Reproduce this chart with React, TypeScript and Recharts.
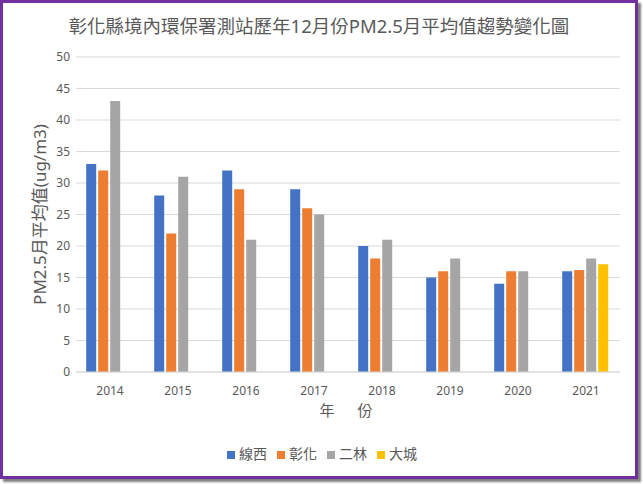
import { BarChart, Bar, XAxis, YAxis, CartesianGrid, Legend } from 'recharts'

const years = ['2014', '2015', '2016', '2017', '2018', '2019', '2020', '2021']
const seriesNames = ['線西', '彰化', '二林', '大城']
const xianxi = [33, 28, 32, 29, 20, 15, 14, 16]
const changhua = [32, 22, 29, 26, 18, 16, 16, 16.2]
const erlin = [43, 31, 21, 25, 21, 18, 16, 18]
const dacheng = [null, null, null, null, null, null, null, 17.1]
const yTicks = [0, 5, 10, 15, 20, 25, 30, 35, 40, 45, 50]

const data = years.map((year, i) => ({
  year,
  線西: xianxi[i],
  彰化: changhua[i],
  二林: erlin[i],
  大城: dacheng[i],
}))

const font = "'Noto Sans', 'Noto Sans CJK TC', sans-serif"
const textColor = '#595959'
const gridColor = '#d9d9d9'

export default function App() {
  return (
    <div
      style={{
        position: 'absolute',
        left: 0,
        top: 0,
        width: 632,
        height: 473,
        border: '3px solid #7030a0',
        boxShadow: '3px 3px 2px #7f7f7f',
        background: '#fff',
        fontFamily: font,
      }}
    >
      <div
        style={{
          position: 'absolute',
          top: 10,
          left: 0,
          width: 632,
          textAlign: 'center',
          fontSize: 18.5,
          color: textColor,
          lineHeight: '26px',
        }}
      >
        彰化縣境內環保署測站歷年12月份PM2.5月平均值趨勢變化圖
      </div>
      <BarChart
        width={632}
        height={473}
        data={data}
        margin={{ top: 54, right: 15, left: 0, bottom: 44 }}
        barCategoryGap="15%"
        barGap={2}
        style={{ fontFamily: font }}
      >
        <CartesianGrid vertical={false} stroke={gridColor} />
        <XAxis
          dataKey="year"
          height={60}
          tickLine={false}
          axisLine={{ stroke: gridColor }}
          tickMargin={8}
          tick={{ fill: textColor, fontSize: 12 }}
          label={{
            value: '年　份',
            position: 'insideTop',
            offset: 33,
            fill: textColor,
            fontSize: 15,
            style: { letterSpacing: 4 },
          }}
        />
        <YAxis
          width={73}
          domain={[0, 50]}
          ticks={yTicks}
          interval={0}
          tickLine={false}
          axisLine={false}
          tickMargin={0}
          tick={{ fill: textColor, fontSize: 12 }}
          label={{
            value: 'PM2.5月平均值(ug/m3)',
            angle: -90,
            position: 'center',
            fill: textColor,
            fontSize: 17,
          }}
        />
        <Legend
          verticalAlign="middle"
          align="center"
          iconType="square"
          iconSize={8}
          itemSorter={(item: any) => seriesNames.indexOf(item.value)}
          wrapperStyle={{ top: 440, left: 8, width: 632, fontSize: 14 }}
          formatter={(value: string) => <span style={{ color: textColor }}>{value}</span>}
        />
        <Bar dataKey="線西" fill="#4472c4" isAnimationActive={false} />
        <Bar dataKey="彰化" fill="#ed7d31" isAnimationActive={false} />
        <Bar dataKey="二林" fill="#a5a5a5" isAnimationActive={false} />
        <Bar dataKey="大城" fill="#ffc000" isAnimationActive={false} />
      </BarChart>
    </div>
  )
}
